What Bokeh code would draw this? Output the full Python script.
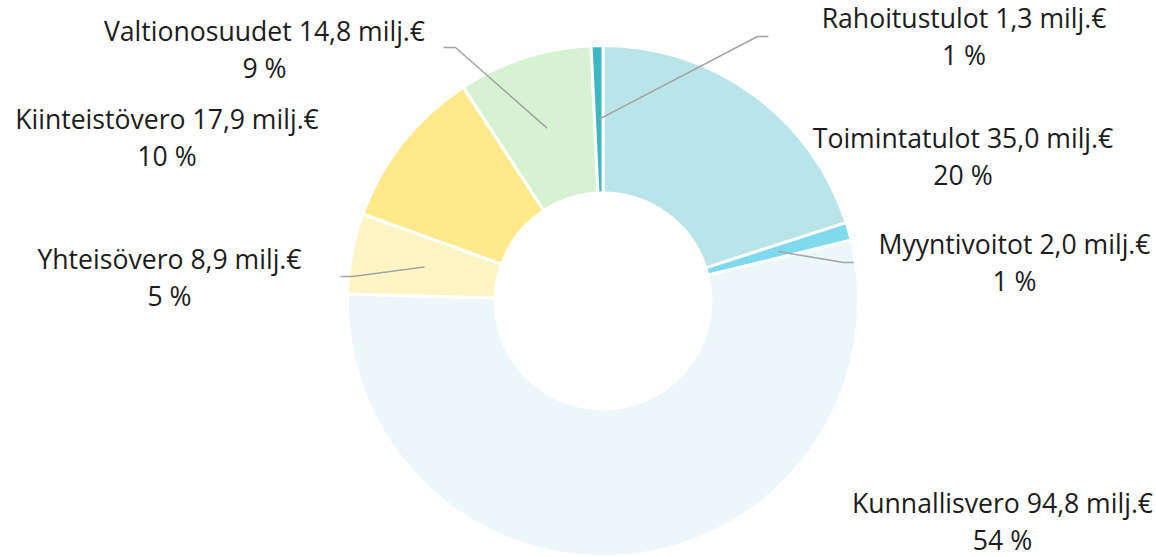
import math
from bokeh.plotting import figure
from bokeh.models import Range1d, ColumnDataSource
from bokeh.core.properties import value
from bokeh.embed import file_html
from bokeh.resources import INLINE

# ---- data ----
categories = ["Toimintatulot", "Myyntivoitot", "Kunnallisvero", "Yhteisövero",
              "Kiinteistövero", "Valtionosuudet", "Rahoitustulot"]
amounts = [35.0, 2.0, 94.8, 8.9, 17.9, 14.8, 1.3]          # milj.€
percent_labels = ["20 %", "1 %", "54 %", "5 %", "10 %", "9 %", "1 %"]
colors = ["#b9e4e8", "#7fdbeb", "#edf6f8", "#fef4c4", "#fee98b", "#d7f1d3", "#3db7c2"]

# ---- layout (image-pixel coordinates of label centres / baselines) ----
CX, CY = 602.5, 300.5          # donut centre in page pixels
R_OUT, R_IN = 255.5, 108.0
label_x = [962.5, 1014, 1002, 169, 166.5, 264, 963.5]
label_base1 = [137, 243, 502, 258, 118, 30, 17]
label_gap = 37.0
# leader lines: (bend point, end point) or None
leaders = [None, ((843, 262), (853, 262)), None, ((352, 276), (340, 276)),
           None, ((455, 47), (443, 47)), ((757, 36), (768, 36))]

W, H = 1156, 557
OFF = 0
total = sum(amounts)

def px(xi):
    return xi - CX

def py(yi):
    return CY - yi

starts, ends, mids = [], [], []
cum = 0.0
for a in amounts:
    f0 = cum / total
    cum += a
    f1 = cum / total
    starts.append(math.pi / 2 - 2 * math.pi * f0)
    ends.append(math.pi / 2 - 2 * math.pi * f1)
    mids.append(math.pi / 2 - 2 * math.pi * (f0 + f1) / 2)

p = figure(width=W, height=H, output_backend="svg", toolbar_location=None,
           x_range=Range1d(OFF - CX, OFF - CX + W), y_range=Range1d(CY - OFF - H, CY - OFF),
           min_border=0, outline_line_color=None, background_fill_color="white",
           border_fill_color="white")
p.axis.visible = False
p.grid.visible = False

src = ColumnDataSource(dict(start=starts, end=ends, color=colors, cat=categories))
p.annular_wedge(x=0, y=0, inner_radius=R_IN, outer_radius=R_OUT,
                start_angle="start", end_angle="end", direction="clock",
                fill_color="color", line_color="white", line_width=3, source=src)

# leader lines
xs, ys = [], []
r_mid = (R_IN + R_OUT) / 2
for i, ld in enumerate(leaders):
    if ld is None:
        continue
    sx = r_mid * math.cos(mids[i])
    sy = r_mid * math.sin(mids[i])
    (bx, by), (ex, ey) = ld
    xs.append([sx, px(bx), px(ex)])
    ys.append([sy, py(by), py(ey)])
p.multi_line(xs=xs, ys=ys, line_color="#a3a3a3", line_width=1.5)

line1 = [f"{c} {str(a).replace('.', ',')} milj.€" for c, a in zip(categories, amounts)]
tsrc = ColumnDataSource(dict(
    x=[px(v) for v in label_x],
    y1=[py(v) for v in label_base1],
    y2=[py(v + label_gap) for v in label_base1],
    t1=line1, t2=percent_labels))
for yk, tk in (("y1", "t1"), ("y2", "t2")):
    p.text(x="x", y=yk, text=tk, source=tsrc, text_align="center",
           text_baseline="alphabetic", text_font=value("Open Sans"),
           text_font_size="26.6px", text_color="#1c1c1c")

open("out.html", "w").write(file_html(p, INLINE))
